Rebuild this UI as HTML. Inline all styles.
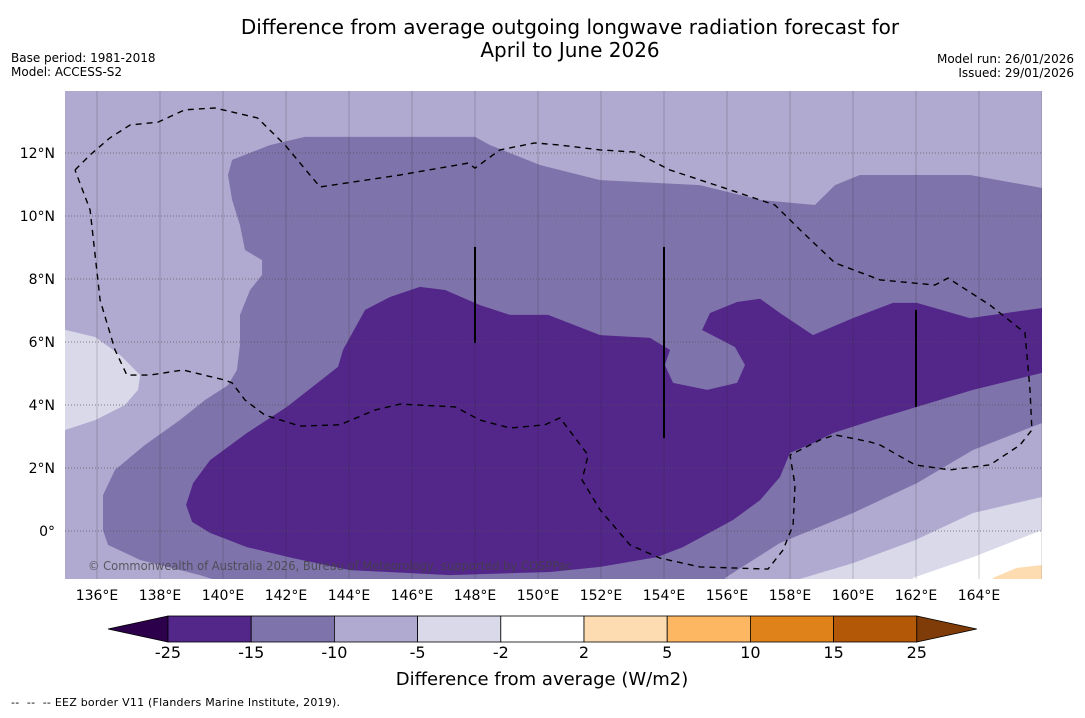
<!DOCTYPE html>
<html><head><meta charset="utf-8">
<style>
body{margin:0;background:#fff;font-family:"Liberation Sans","DejaVu Sans",sans-serif;}
svg text{font-family:"DejaVu Sans","Liberation Sans",sans-serif;}
</style></head>
<body>
<svg id="c" width="1085" height="713" xmlns="http://www.w3.org/2000/svg">
<rect width="1085" height="713" fill="#fff"/>
<text x="570" y="34" font-size="20" text-anchor="middle">Difference from average outgoing longwave radiation forecast for</text>
<text x="570" y="57" font-size="20" text-anchor="middle">April to June 2026</text>
<text x="11" y="62" font-size="12">Base period: 1981-2018</text>
<text x="11" y="76" font-size="12">Model: ACCESS-S2</text>
<text x="1074" y="63" font-size="12" text-anchor="end">Model run: 26/01/2026</text>
<text x="1074" y="77" font-size="12" text-anchor="end">Issued: 29/01/2026</text>
<defs><clipPath id="mc"><rect x="65" y="91" width="977" height="488"/></clipPath></defs>
<g id="map" clip-path="url(#mc)"></g>
<g id="axes"></g>
<g id="cbar"></g>
<text x="542" y="685" font-size="18" text-anchor="middle">Difference from average (W/m2)</text>
<text x="11" y="706" font-size="11" textLength="329">--&#160;&#160;--&#160;&#160;-- EEZ border V11 (Flanders Marine Institute, 2019).</text>
</svg>
<script>
// colour levels
const levels = [-25,-15,-10,-5,-2,2,5,10,15,25];
const levelColors = ["#53268a","#7e73aa","#b0a9d0","#d9d9ea","#ffffff","#fddcb2","#fdb762","#e0821a","#b35806"];
const underColor = "#2d004b", overColor = "#7f3b08";
const lonTicks = [136,138,140,142,144,146,148,150,152,154,156,158,160,162,164];
const latTicks = [0,2,4,6,8,10,12];

// contour regions [lon,lat]
const regionBackground = [[134,-2],[167,-2],[167,15],[134,15]];
const regionLightWest = [[134.9,6.38],[135,6.38],[135.94,6.16],[136.73,5.59],[137.37,4.95],[137.3,4.48],[136.89,4.0],[135.94,3.52],[135,3.21],[134.9,3.21]];
const regionLightSE = [[158.32,-1.6],[158.32,-1.52],[160,-1.02],[161.97,-0.29],[163.81,0.57],[166,1.08],[166.1,1.08],[166.1,-1.6]];
const regionWhite = [[161.9,-1.6],[161.9,-1.49],[163.81,-0.83],[166,0.03],[166.1,0.03],[166.1,-1.6]];
const regionOrange = [[164.44,-1.6],[164.44,-1.49],[165.2,-1.17],[166,-1.08],[166.1,-1.08],[166.1,-1.6]];
const regionMedium = [[140.29,11.78],[141.49,12.25],[142.6,12.51],[148,12.51],[148.48,12.25],[150.06,11.62],[151.97,11.14],[155.14,10.98],[157.05,10.51],[158.79,10.35],[159.43,10.98],[160.22,11.3],[163.71,11.3],[166,10.89],[166.1,10.89],[166.1,3.43],[166,3.43],[163.81,2.57],[162.03,1.52],[160,0.57],[157.68,-0.38],[155.94,-1.49],[155.94,-1.6],[139.9,-1.6],[139.27,-1.4],[137.37,-0.92],[136.35,-0.44],[136.19,0.03],[136.19,1.14],[136.57,1.94],[137.52,2.73],[138.63,3.52],[139.43,4.16],[140.16,4.63],[140.44,5.11],[140.54,5.9],[140.54,6.86],[140.86,7.65],[141.24,8.13],[141.24,8.6],[140.7,8.92],[140.54,9.71],[140.29,10.51],[140.16,11.3]];
const regionDark = [[144.51,7.02],[145.3,7.43],[146.25,7.75],[147.05,7.65],[148.16,7.17],[149.11,6.86],[150.32,6.86],[151.97,6.22],[153.56,6.13],[154.03,5.84],[154.19,5.75],[154.03,5.27],[154.29,4.7],[155.37,4.48],[156.32,4.7],[156.57,5.27],[156.25,5.84],[155.21,6.38],[155.46,6.92],[156.32,7.27],[157.05,7.37],[157.68,6.92],[158.73,6.22],[160,6.76],[161.27,7.24],[162.03,7.24],[163.71,6.76],[166,7.08],[166.1,7.08],[166.1,4.95],[166,5.02],[163.81,4.48],[162.03,3.94],[160.95,3.62],[159.37,3.11],[158.73,2.79],[158,2.48],[157.68,1.71],[157.05,0.98],[156.19,0.35],[154.6,-0.51],[153.78,-0.83],[151.97,-1.14],[150.38,-1.3],[147.21,-1.4],[144.03,-1.24],[142.22,-0.86],[140.76,-0.51],[139.59,-0.06],[139.02,0.29],[138.83,0.83],[139.05,1.52],[139.59,2.25],[140.76,3.11],[142.03,3.94],[143.65,5.21],[143.81,5.75]];
const eezBorder = [[135.3,11.46],[135.78,11.94],[136.41,12.48],[137.05,12.89],[137.94,12.98],[138.79,13.37],[139.75,13.43],[141.1,13.11],[141.97,12.25],[143.08,10.92],[145.62,11.3],[147.78,11.68],[148,11.52],[148.79,12.1],[149.9,12.32],[150.7,12.25],[151.97,12.1],[153.08,12.03],[154.19,11.46],[156.1,10.83],[157.52,10.35],[158.32,9.56],[159.43,8.51],[160.86,7.97],[162.6,7.81],[163.02,8.03],[164.35,7.17],[165.46,6.29],[165.62,4.48],[165.68,3.21],[165.3,2.73],[164.35,2.1],[163.08,1.94],[161.97,2.1],[160.86,2.73],[160.54,2.83],[159.43,3.05],[158.95,2.89],[158,2.41],[158.16,1.46],[158.1,0.19],[157.78,-0.6],[157.3,-1.21],[155.14,-1.14],[153.87,-0.86],[152.92,-0.44],[151.97,0.67],[151.4,1.62],[151.59,2.41],[150.7,3.59],[150.22,3.37],[149.11,3.27],[148.16,3.52],[147.37,3.94],[145.62,4.03],[144.83,3.84],[143.71,3.37],[142.44,3.33],[141.33,3.68],[140.7,4.16],[140.29,4.7],[140.06,4.79],[138.73,5.11],[137.68,4.95],[136.95,4.95],[136.57,5.75],[136.1,7.33],[135.78,10.19],[135.3,11.46]];
const solidLines = [[[148,9.02],[148,5.97]],[[154,9.02],[154,2.95]],[[162,7.02],[162,3.94]]];

const NS="http://www.w3.org/2000/svg";
const X = lon => 65.5 + (lon-135)*31.5;
const Y = lat => 531 - lat*31.5;
function mk(tag, attrs, parent){const e=document.createElementNS(NS,tag);for(const k in attrs)e.setAttribute(k,attrs[k]);parent.appendChild(e);return e;}
const map=document.getElementById('map');
const pts = arr => arr.map(p=>X(p[0]).toFixed(1)+','+Y(p[1]).toFixed(1)).join(' ');
function region(arr,color,name){
  const e=mk('polygon',{points:pts(arr),fill:color},map);
  
  
}
region(regionBackground,levelColors[2],'region-minus10-minus5');
region(regionLightWest,levelColors[3],'region-minus5-minus2-west');
region(regionLightSE,levelColors[3],'region-minus5-minus2-southeast');
region(regionWhite,levelColors[4],'region-near-average');
region(regionOrange,levelColors[5],'region-plus2-plus5');
region(regionMedium,levelColors[1],'region-minus15-minus10');
region(regionDark,levelColors[0],'region-minus25-minus15');
// gridlines
latTicks.forEach(l=>{
  const e=mk('line',{x1:65,x2:1042,y1:Y(l),y2:Y(l),stroke:'#555','stroke-width':1,'stroke-dasharray':'1,2','stroke-opacity':0.7},map);
  
  
});
lonTicks.concat([166]).forEach(l=>{
  const e=mk('line',{x1:X(l),x2:X(l),y1:91,y2:579,stroke:'#333','stroke-width':0.8,'stroke-opacity':0.3},map);
  
  
});
const eez=mk('polyline',{points:pts(eezBorder),fill:'none',stroke:'#000','stroke-width':1.4,'stroke-dasharray':'6,5'},map);


solidLines.forEach(s=>{
  const e=mk('polyline',{points:pts(s),fill:'none',stroke:'#000','stroke-width':2},map);
  
  
});
const cp=mk('text',{x:88,y:570,'font-size':12,fill:'#444','fill-opacity':0.8,textLength:484,lengthAdjust:'spacingAndGlyphs'},map);
cp.textContent='© Commonwealth of Australia 2026, Bureau of Meteorology, supported by COSPPac';


// axes labels
const ax=document.getElementById('axes');
lonTicks.forEach(l=>{
  const t=mk('text',{x:X(l),y:600,'font-size':14,'text-anchor':'middle'},ax);
  t.textContent=l+'°E';
  
  
});
latTicks.forEach(l=>{
  const t=mk('text',{x:55,y:Y(l)+5,'font-size':14,'text-anchor':'end'},ax);
  t.textContent=l===0?'0°':l+'°N';
  
  
});
// colorbar
const cb=document.getElementById('cbar');
const cbX0=168, cbW=83.2, cbY=616, cbH=26;
const CX = i => cbX0 + i*cbW;
let tri=mk('polygon',{points:`108,${cbY+cbH/2} ${cbX0},${cbY} ${cbX0},${cbY+cbH}`,fill:underColor,stroke:'#000','stroke-width':0.8},cb);


levelColors.forEach((c,i)=>{
  const r=mk('rect',{x:CX(i),y:cbY,width:cbW,height:cbH,fill:c,stroke:'#000','stroke-width':0.8},cb);
  
  
});
const xe=CX(levelColors.length);
tri=mk('polygon',{points:`${xe},${cbY} ${xe+60},${cbY+cbH/2} ${xe},${cbY+cbH}`,fill:overColor,stroke:'#000','stroke-width':0.8},cb);


levels.forEach((v,i)=>{
  const t=mk('text',{x:CX(i),y:658,'font-size':16,'text-anchor':'middle'},cb);
  t.textContent=v;
  
  
});
</script>
</body></html>
